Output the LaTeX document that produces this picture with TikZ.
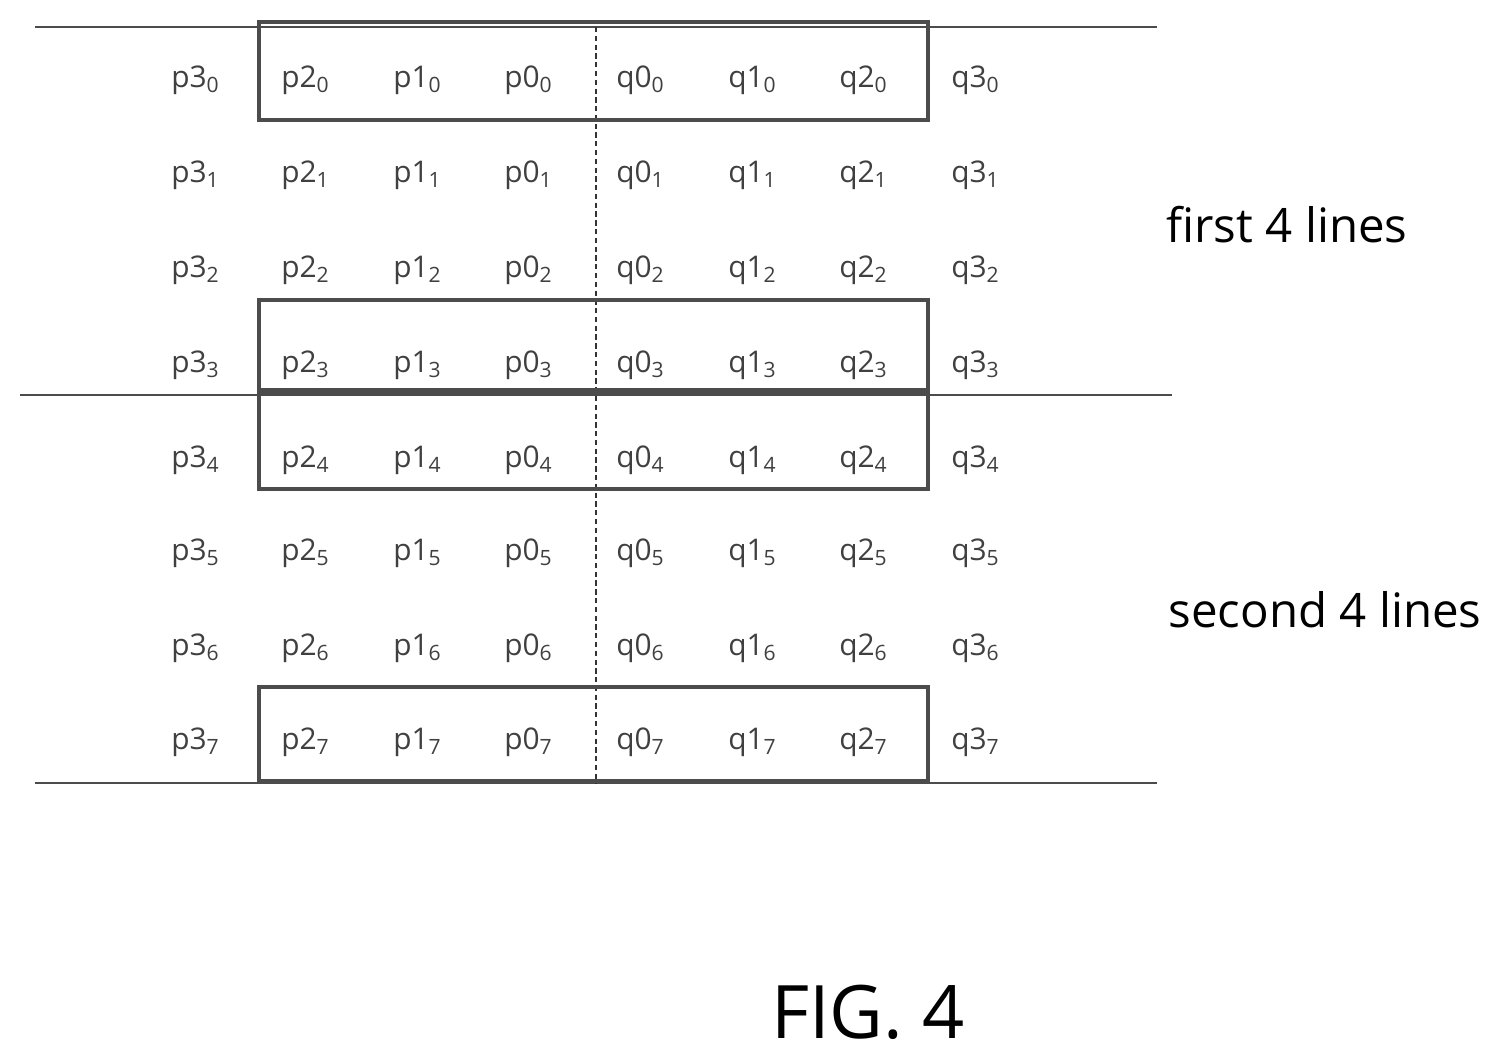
\documentclass[tikz,border=0pt]{standalone}
\usepackage{fontspec}
\setmainfont{Open Sans}
\begin{document}
\begin{tikzpicture}[x=0.02cm,y=-0.02cm,
  cell/.style={font=\fontsize{17}{18}\selectfont, text=black!75},
  box/.style={draw=black!70, line width=0.08cm},
  hline/.style={draw=black!70, line width=0.03cm},
  lbl/.style={font=\fontsize{27}{30}\selectfont}]
\useasboundingbox (0,0) rectangle (1511,1056);
\foreach \r/\y in {0/80,1/175,2/270,3/365,4/460,5/553,6/648,7/742}{
  \foreach \n/\x in {p3/195,p2/305,p1/417,p0/528,q0/640,q1/752,q2/863,q3/975}{
    \node[cell] (\n-\r) at (\x,\y) {\n\raisebox{-0.35ex}{\fontsize{12}{12}\selectfont\r}};
  }
}
\coordinate (t1) at (35,27); \coordinate (t2) at (1157,27);
\coordinate (m1) at (20,395); \coordinate (m2) at (1172,395);
\coordinate (b1) at (35,783); \coordinate (b2) at (1157,783);
\coordinate (vt) at (596,27); \coordinate (vb) at (596,783);
\draw[hline] (t1) -- (t2);
\draw[hline] (m1) -- (m2);
\draw[hline] (b1) -- (b2);
\draw[black!80, line width=0.03cm, dash pattern=on 3pt off 2pt] (vt) -- (vb);
\draw[box] (259,22) rectangle (928,120);
\draw[box] (259,300) rectangle (928,390);
\draw[box] (259,393) rectangle (928,489);
\draw[box] (259,687) rectangle (928,781);
\node[lbl] (first) at (1287,225) {first 4 lines};
\node[lbl] (second) at (1325,610) {second 4 lines};
\node[font=\fontsize{42}{46}\selectfont] (fig) at (868,1012) {FIG. 4};
\end{tikzpicture}
\end{document}
